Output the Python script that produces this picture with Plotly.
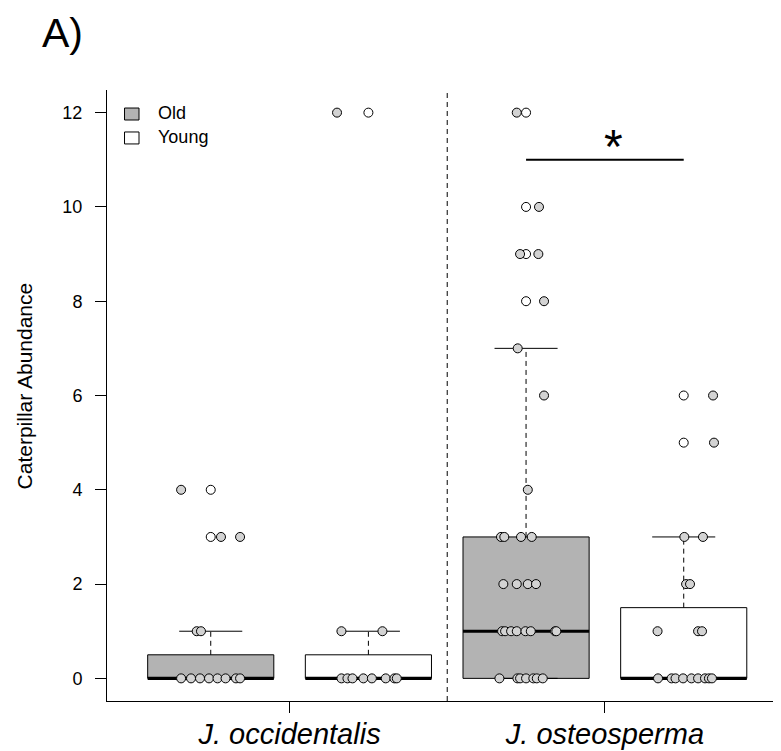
import plotly.graph_objects as go

# ---------------- data ----------------
species_labels = ["J. occidentalis", "J. osteosperma"]
species_tick_pos = [1.5, 3.5]
age_labels = ["Old", "Young"]
group_pos = [1, 2, 3, 4]          # occ-Old, occ-Young, ost-Old, ost-Young
group_age = ["Old", "Young", "Old", "Young"]

q1 = [0, 0, 0, 0]
median = [0, 0, 1, 0]
q3 = [0.5, 0.5, 3, 1.5]
whisker_low = [0, 0, 0, 0]
whisker_high = [1, 1, 7, 3]
outliers = [[3, 4], [12], [8, 9, 10, 12], [5, 6]]

# individual (jittered) observations: x in axis units, y = abundance
occ_old_x = [0.812, 1.065, 1.186, 0.911, 0.938, 0.812, 0.875, 0.932, 0.989, 1.043, 1.094, 1.160, 1.186]
occ_old_y = [4, 3, 3, 1, 1, 0, 0, 0, 0, 0, 0, 0, 0]
occ_young_x = [1.801, 1.829, 2.089, 1.829, 1.867, 1.899, 1.968, 2.022, 2.110, 2.165, 2.180]
occ_young_y = [12, 1, 1, 0, 0, 0, 0, 0, 0, 0, 0]
ost_old_x = [2.941, 3.082, 2.962, 3.078, 3.114, 2.947, 3.114, 3.011,
             2.841, 2.862, 2.968, 3.036,
             2.856, 2.941, 3.011, 3.063,
             2.848, 2.867, 2.905, 2.941, 2.996, 3.030, 3.184, 3.192,
             2.831, 2.945, 2.962, 3.000, 3.046, 3.068, 3.106]
ost_old_y = [12, 10, 9, 9, 8, 7, 6, 4,
             3, 3, 3, 3,
             2, 2, 2, 2,
             1, 1, 1, 1, 1, 1, 1, 1,
             0, 0, 0, 0, 0, 0, 0]
ost_young_x = [4.186, 4.192, 4.004, 4.122, 4.015, 4.040, 3.834, 4.091, 4.116,
               3.837, 3.923, 3.948, 3.996, 4.049, 4.091, 4.135, 4.160, 4.179]
ost_young_y = [6, 5, 3, 3, 2, 2, 1, 1, 1,
               0, 0, 0, 0, 0, 0, 0, 0, 0]

points_x = [occ_old_x, occ_young_x, ost_old_x, ost_young_x]
points_y = [occ_old_y, occ_young_y, ost_old_y, ost_young_y]

sig_pair = [3, 4]
sig_y = 11
sig_label = "*"

y_ticks = [0, 2, 4, 6, 8, 10, 12]
y_title = "Caterpillar Abundance"
panel_label = "A)"

# ---------------- style ----------------
FONT = "Liberation Sans, Arial, Helvetica, sans-serif"
age_fill = {"Old": "#b3b3b3", "Young": "#ffffff"}
POINT_FILL = "#d3d3d3"
BOX_HALF = 0.4
STAPLE_HALF = 0.2
DASH = "5px,4px"

fig = go.Figure()

for i, c in enumerate(group_pos):
    # box
    fig.add_trace(go.Scatter(
        x=[c - BOX_HALF, c + BOX_HALF, c + BOX_HALF, c - BOX_HALF, c - BOX_HALF],
        y=[q1[i], q1[i], q3[i], q3[i], q1[i]],
        mode="lines", fill="toself", fillcolor=age_fill[group_age[i]],
        line=dict(color="black", width=1), hoverinfo="skip", showlegend=False))
    # whiskers (dashed)
    fig.add_trace(go.Scatter(
        x=[c, c, None, c, c],
        y=[q3[i], whisker_high[i], None, q1[i], whisker_low[i]],
        mode="lines", line=dict(color="black", width=1, dash=DASH),
        hoverinfo="skip", showlegend=False))
    # staples
    fig.add_trace(go.Scatter(
        x=[c - STAPLE_HALF, c + STAPLE_HALF, None, c - STAPLE_HALF, c + STAPLE_HALF],
        y=[whisker_high[i], whisker_high[i], None, whisker_low[i], whisker_low[i]],
        mode="lines", line=dict(color="black", width=1),
        hoverinfo="skip", showlegend=False))
    # median
    fig.add_trace(go.Scatter(
        x=[c - BOX_HALF, c + BOX_HALF], y=[median[i], median[i]],
        mode="lines", line=dict(color="black", width=3.2),
        hoverinfo="skip", showlegend=False))

# outliers (open circles at box centre)
for i, c in enumerate(group_pos):
    fig.add_trace(go.Scatter(
        x=[c] * len(outliers[i]), y=outliers[i], mode="markers",
        marker=dict(symbol="circle", size=9, color="white",
                    line=dict(color="black", width=1)),
        hoverinfo="skip", showlegend=False))

# individual observations
for i in range(len(group_pos)):
    fig.add_trace(go.Scatter(
        x=points_x[i], y=points_y[i], mode="markers",
        marker=dict(symbol="circle", size=9, color=POINT_FILL,
                    line=dict(color="black", width=1)),
        hoverinfo="skip", showlegend=False))

# significance bar
fig.add_trace(go.Scatter(
    x=sig_pair, y=[sig_y, sig_y], mode="lines",
    line=dict(color="black", width=2.2), hoverinfo="skip", showlegend=False))
fig.add_annotation(x=sum(sig_pair) / 2 + 0.055, y=sig_y + 0.28, text=sig_label,
                   showarrow=False, font=dict(family=FONT, size=48, color="black"),
                   xanchor="center", yanchor="middle")

# separator between species
fig.add_shape(type="line", xref="x", yref="paper", x0=2.5, x1=2.5, y0=0, y1=1,
              line=dict(color="black", width=1, dash=DASH))

# legend (drawn manually like R's legend())
legend_rows = [0.9607, 0.9215]
for lab, yc in zip(age_labels, legend_rows):
    fig.add_shape(type="rect", xref="paper", yref="paper",
                  x0=0.026, x1=0.0475, y0=yc - 0.0098, y1=yc + 0.0098,
                  line=dict(color="black", width=1), fillcolor=age_fill[lab])
    fig.add_annotation(xref="paper", yref="paper", x=0.0727, y=yc + 0.001, text=lab,
                       showarrow=False, xanchor="left", yanchor="middle",
                       font=dict(family=FONT, size=18, color="black"))

# y axis title and panel label
fig.add_annotation(xref="paper", yref="paper", x=-0.123, y=0.515, text=y_title,
                   textangle=-90, showarrow=False, xanchor="center", yanchor="middle",
                   font=dict(family=FONT, size=21, color="black"))
fig.add_annotation(xref="paper", yref="paper", x=-0.099, y=1.094, text=panel_label,
                   showarrow=False, xanchor="left", yanchor="middle",
                   font=dict(family=FONT, size=41, color="black"))

# the page body adds an 8px offset, so the figure is 8px smaller than the window
fig.update_layout(
    width=773, height=743,
    margin=dict(l=99, r=0, t=82, b=50, autoexpand=False),
    plot_bgcolor="white", paper_bgcolor="white",
    font=dict(family=FONT, color="black"),
    showlegend=False,
    xaxis=dict(range=[0.342, 4.617], showgrid=False, zeroline=False, automargin=False,
               showline=True, linecolor="black", linewidth=1,
               tickmode="array", tickvals=species_tick_pos, ticktext=species_labels,
               ticks="outside", ticklen=11, tickcolor="black", tickwidth=1,
               tickfont=dict(family=FONT, size=29, color="black", style="italic"),
               ticklabelstandoff=-4),
    yaxis=dict(range=[-0.48, 12.48], showgrid=False, zeroline=False, automargin=False,
               showline=True, linecolor="black", linewidth=1,
               tickmode="array", tickvals=y_ticks,
               ticks="outside", ticklen=11, tickcolor="black", tickwidth=1,
               tickfont=dict(family=FONT, size=18, color="black"),
               ticklabelstandoff=9),
)

fig.write_html("out.html")
